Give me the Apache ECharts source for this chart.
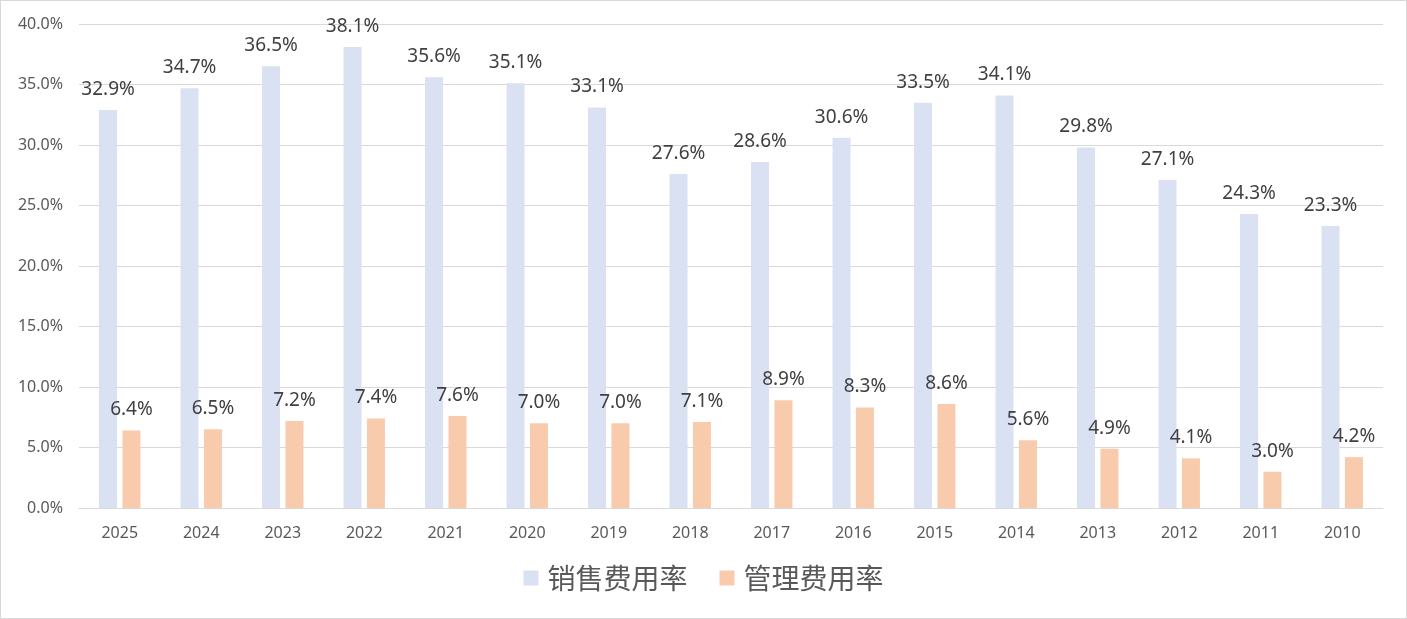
<!DOCTYPE html>
<html><head><meta charset="utf-8">
<script src="https://cdn.jsdelivr.net/npm/echarts@6/dist/echarts.min.js"></script>
<style>html,body{margin:0;padding:0;background:#fff}#c{width:1405px;height:617px;border:1px solid #d9d9d9}</style>
</head><body><div id="c"></div>
<script>
const categories = ['2025','2024','2023','2022','2021','2020','2019','2018','2017','2016','2015','2014','2013','2012','2011','2010'];
const salesRate = [32.9,34.7,36.5,38.1,35.6,35.1,33.1,27.6,28.6,30.6,33.5,34.1,29.8,27.1,24.3,23.3];
const adminRate = [6.4,6.5,7.2,7.4,7.6,7.0,7.0,7.1,8.9,8.3,8.6,5.6,4.9,4.1,3.0,4.2];
const seriesNames = ['销售费用率','管理费用率'];

const chart = echarts.init(document.getElementById('c'));
const numFont = '"Noto Sans", "Noto Sans CJK SC", sans-serif';
const lbl = {show:true, position:'top', distance:11, color:'#404040', fontSize:19, fontFamily:numFont, formatter:p=>p.value.toFixed(1)+'%'};
chart.setOption({
  animation:false,
  grid:{left:78, right:23, top:23, bottom:110},
  legend:{bottom:21, left:'center', itemWidth:15, itemHeight:15, itemGap:32, icon:'rect',
    textStyle:{fontSize:28, color:'#595959', padding:[0,0,0,4], fontFamily:'"Noto Sans CJK SC", sans-serif'},
    data:seriesNames},
  xAxis:{type:'category', data:categories,
    axisLine:{lineStyle:{color:'#d9d9d9'}}, axisTick:{show:false},
    axisLabel:{color:'#595959', fontSize:16, margin:17, fontFamily:numFont}},
  yAxis:{type:'value', min:0, max:40, interval:5,
    axisLabel:{color:'#595959', fontSize:16, margin:16, fontFamily:numFont, formatter:v=>v.toFixed(1)+'%'},
    splitLine:{lineStyle:{color:'#d9d9d9', width:1}}},
  series:[
    {name:seriesNames[0], type:'bar', data:salesRate, barWidth:18, barGap:'30%', itemStyle:{color:'#d9e1f2'}, label:lbl},
    {name:seriesNames[1], type:'bar', data:adminRate, barWidth:18, itemStyle:{color:'#f8cbad'}, label:lbl}
  ]
});
</script></body></html>
